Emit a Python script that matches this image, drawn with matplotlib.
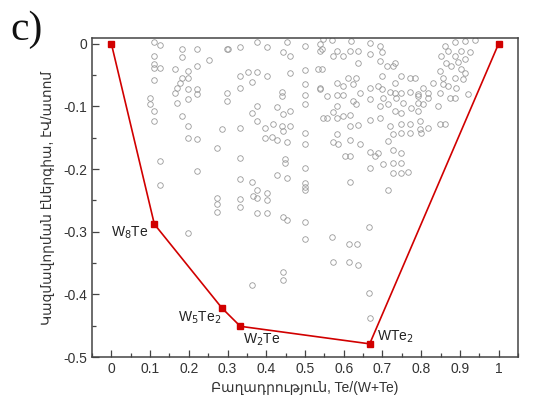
import matplotlib
matplotlib.use("Agg")
import matplotlib.pyplot as plt
from matplotlib.ticker import MultipleLocator

plt.rcParams['font.family'] = ['Liberation Sans', 'DejaVu Sans']

# convex hull (stable phases)
hull_x = [0.0, 0.111, 0.2857, 0.333, 0.667, 1.0]
hull_y = [0.0, -0.288, -0.422, -0.451, -0.479, 0.0]

# phase labels: text, x, y, alignment
phase_labels = [
    ("W$_8$Te", 0.095, -0.302, "right"),
    ("W$_5$Te$_2$", 0.283, -0.437, "right"),
    ("W$_2$Te", 0.339, -0.473, "left"),
    ("WTe$_2$", 0.686, -0.468, "left"),
]

# all other structures (composition, formation energy)
other_pts = [
    (0.111, 0.003), (0.125, -0.002), (0.182, -0.008), (0.221, -0.008), (0.298, -0.008),
    (0.111, -0.019), (0.182, -0.022), (0.251, -0.026), (0.111, -0.032), (0.111, -0.038),
    (0.126, -0.039), (0.165, -0.040), (0.199, -0.043), (0.221, -0.036), (0.182, -0.055),
    (0.199, -0.054), (0.111, -0.058), (0.178, -0.063), (0.169, -0.070), (0.199, -0.073),
    (0.221, -0.072), (0.165, -0.079), (0.221, -0.080), (0.298, -0.078), (0.101, -0.086),
    (0.199, -0.089), (0.298, -0.091), (0.169, -0.095), (0.101, -0.097), (0.109, -0.107),
    (0.182, -0.115), (0.111, -0.123), (0.199, -0.131), (0.285, -0.136), (0.199, -0.151),
    (0.221, -0.152), (0.274, -0.167), (0.125, -0.187), (0.221, -0.203), (0.125, -0.225),
    (0.272, -0.247), (0.272, -0.256), (0.272, -0.269), (0.199, -0.302),
    (0.302, -0.008), (0.332, -0.006), (0.376, 0.003), (0.401, -0.006), (0.453, 0.003),
    (0.444, -0.014), (0.461, -0.020), (0.500, -0.003), (0.539, 0.000), (0.539, -0.011),
    (0.354, -0.045), (0.376, -0.045), (0.332, -0.052), (0.401, -0.052), (0.461, -0.046),
    (0.500, -0.042), (0.534, -0.040), (0.363, -0.061), (0.332, -0.070), (0.500, -0.064),
    (0.440, -0.077), (0.500, -0.082), (0.539, -0.071), (0.440, -0.083), (0.500, -0.097),
    (0.376, -0.100), (0.427, -0.101), (0.363, -0.110), (0.461, -0.107), (0.444, -0.112),
    (0.376, -0.123), (0.547, -0.118), (0.418, -0.128), (0.440, -0.131), (0.461, -0.131),
    (0.332, -0.134), (0.397, -0.135), (0.444, -0.139), (0.500, -0.142), (0.397, -0.150),
    (0.414, -0.149), (0.427, -0.154), (0.453, -0.157), (0.500, -0.160), (0.332, -0.182),
    (0.448, -0.184), (0.448, -0.190), (0.500, -0.198), (0.427, -0.210), (0.453, -0.215),
    (0.332, -0.216), (0.363, -0.220), (0.500, -0.222), (0.500, -0.228), (0.500, -0.233),
    (0.376, -0.233), (0.367, -0.243), (0.376, -0.246), (0.401, -0.239), (0.401, -0.249),
    (0.332, -0.248), (0.332, -0.260), (0.376, -0.270), (0.401, -0.270), (0.444, -0.276),
    (0.453, -0.282), (0.500, -0.285), (0.500, -0.311), (0.569, -0.309), (0.573, -0.348),
    (0.614, -0.320), (0.635, -0.320), (0.614, -0.348), (0.637, -0.353), (0.715, -0.233),
    (0.666, -0.293), (0.666, -0.398), (0.667, -0.438), (0.442, -0.364), (0.442, -0.377),
    (0.363, -0.385),
    (0.547, 0.007), (0.569, 0.006), (0.620, 0.005), (0.667, 0.001), (0.693, -0.003),
    (0.543, -0.008), (0.582, -0.011), (0.616, -0.011), (0.637, -0.011), (0.573, -0.020),
    (0.599, -0.020), (0.667, -0.016), (0.698, -0.014), (0.637, -0.030), (0.693, -0.027),
    (0.711, -0.036), (0.728, -0.036), (0.732, -0.030), (0.543, -0.040), (0.698, -0.051),
    (0.749, -0.052), (0.771, -0.054), (0.612, -0.054), (0.633, -0.054), (0.582, -0.062),
    (0.599, -0.067), (0.624, -0.064), (0.667, -0.070), (0.689, -0.068), (0.698, -0.072),
    (0.732, -0.062), (0.539, -0.072), (0.719, -0.077), (0.732, -0.078), (0.749, -0.079),
    (0.771, -0.077), (0.792, -0.080), (0.556, -0.084), (0.582, -0.082), (0.599, -0.082),
    (0.642, -0.078), (0.667, -0.088), (0.702, -0.086), (0.736, -0.087), (0.624, -0.091),
    (0.633, -0.096), (0.715, -0.096), (0.754, -0.094), (0.582, -0.099), (0.693, -0.100),
    (0.775, -0.102), (0.573, -0.109), (0.732, -0.107), (0.749, -0.110), (0.556, -0.118),
    (0.582, -0.118), (0.599, -0.115), (0.616, -0.114), (0.667, -0.121), (0.693, -0.119),
    (0.616, -0.131), (0.637, -0.130), (0.719, -0.131), (0.749, -0.128), (0.771, -0.128),
    (0.582, -0.144), (0.728, -0.144), (0.749, -0.143), (0.771, -0.143), (0.573, -0.157),
    (0.586, -0.160), (0.616, -0.153), (0.642, -0.160), (0.715, -0.155), (0.728, -0.169),
    (0.749, -0.174), (0.667, -0.173), (0.689, -0.174), (0.680, -0.179), (0.603, -0.180),
    (0.616, -0.180), (0.702, -0.192), (0.728, -0.190), (0.749, -0.191), (0.667, -0.198),
    (0.728, -0.206), (0.749, -0.206), (0.766, -0.204), (0.616, -0.220),
    (0.861, -0.003), (0.887, 0.002), (0.912, 0.005), (0.938, 0.006), (0.869, -0.011),
    (0.903, -0.011), (0.925, -0.014), (0.852, -0.019), (0.887, -0.020), (0.912, -0.024),
    (0.865, -0.030), (0.895, -0.029), (0.878, -0.036), (0.903, -0.040), (0.848, -0.043),
    (0.912, -0.046), (0.857, -0.054), (0.887, -0.055), (0.908, -0.056), (0.784, -0.055),
    (0.831, -0.063), (0.857, -0.064), (0.869, -0.067), (0.891, -0.071), (0.805, -0.071),
    (0.818, -0.078), (0.792, -0.083), (0.848, -0.078), (0.921, -0.080), (0.818, -0.086),
    (0.874, -0.087), (0.887, -0.087), (0.792, -0.094), (0.805, -0.096), (0.843, -0.099),
    (0.792, -0.107), (0.796, -0.123), (0.848, -0.128), (0.861, -0.128), (0.818, -0.134),
    (0.796, -0.136), (0.800, -0.142),
]
other_x = [p[0] for p in other_pts]
other_y = [p[1] for p in other_pts]

fig = plt.figure(figsize=(5.39, 4.05), dpi=100)
ax = fig.add_axes([0.1707, 0.1185, 0.7903, 0.7875])

ax.plot(other_x, other_y, 'o', ms=4.0, mfc='none', mec='#9a9a9a', mew=0.6,
        linestyle='none', zorder=2)
ax.plot(hull_x, hull_y, '-s', color='#d10000', lw=1.2, ms=5, zorder=3,
        clip_on=False)

for txt, tx, ty, ha in phase_labels:
    ax.text(tx, ty, txt, ha=ha, va='center', fontsize=10, color='#222222')

ax.set_xlim(-0.05, 1.05)
ax.set_ylim(-0.5, 0.009)
ax.xaxis.set_minor_locator(MultipleLocator(0.05))
ax.yaxis.set_minor_locator(MultipleLocator(0.05))
ax.set_xticks([0, 0.1, 0.2, 0.3, 0.4, 0.5, 0.6, 0.7, 0.8, 0.9, 1.0])
ax.set_xticklabels(['0', '0.1', '0.2', '0.3', '0.4', '0.5', '0.6', '0.7', '0.8', '0.9', '1'])
ax.set_yticks([0, -0.1, -0.2, -0.3, -0.4, -0.5])
ax.set_yticklabels(['0', '-0.1', '-0.2', '-0.3', '-0.4', '-0.5'])
ax.tick_params(which='both', direction='in', colors='#444444', labelcolor='#333333',
               labelsize=10, width=0.9)
ax.tick_params(which='major', length=5)
ax.tick_params(which='minor', length=3)
for s in ax.spines.values():
    s.set_color('#444444')
    s.set_linewidth(1.1)

ax.set_xlabel('Բաղադրություն, Te/(W+Te)', fontsize=10, color='#333333', labelpad=4)
ax.set_ylabel('Կազմավորման էներգիա, էՎ/ատոմ', fontsize=10, color='#333333', labelpad=6)

fig.text(0.020, 0.975, 'c)', fontsize=30, family='Liberation Serif', va='top', ha='left',
         color='#111111')

fig.savefig('out.png', dpi=100)
